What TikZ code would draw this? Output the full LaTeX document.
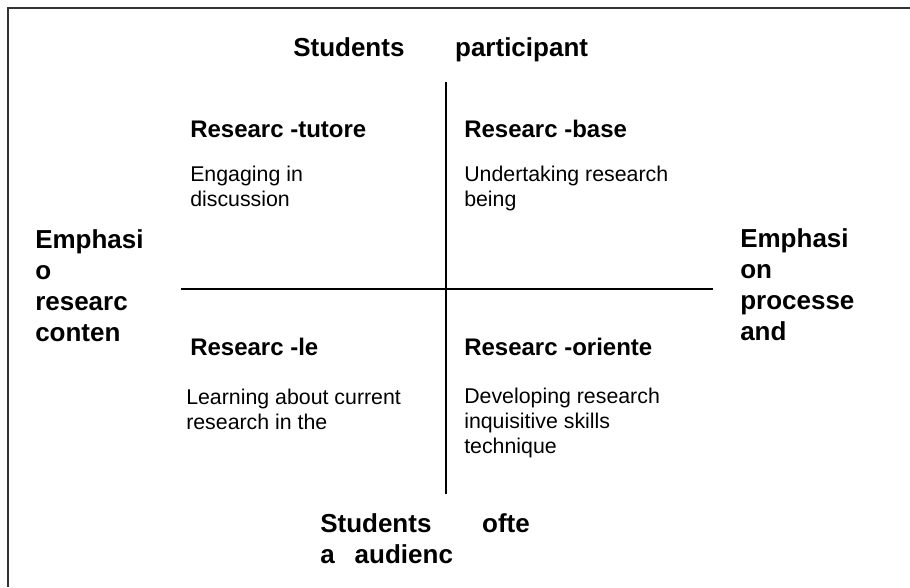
\documentclass[tikz,border=0pt]{standalone}
\usepackage{fontspec}
\setmainfont{Liberation Sans}
\begin{document}
\begin{tikzpicture}[x=0.75pt,y=-0.75pt,
  big/.style={font=\fontsize{19.5}{23.25}\selectfont\bfseries, inner sep=0pt, anchor=base west, align=left},
  head/.style={font=\fontsize{18}{21}\selectfont\bfseries, inner sep=0pt, anchor=base west},
  body/.style={font=\fontsize{16}{18.4}\selectfont, inner sep=0pt, anchor=base west, align=left},
  axisline/.style={line width=1.5pt, black},
  frame/.style={line width=1.6pt, black!80}]
\useasboundingbox (0,0) rectangle (910,587);
% partial frame
\coordinate (fbl) at (8,587);
\coordinate (ftl) at (8,8);
\coordinate (ftr) at (910,8);
\draw[frame] (fbl) -- (ftl) -- (ftr);
% axes
\coordinate (vtop) at (446,82);
\coordinate (vbot) at (446,494);
\coordinate (hleft) at (181,289);
\coordinate (hright) at (713,289);
\draw[axisline] (vtop) -- (vbot);
\draw[axisline] (hleft) -- (hright);
% axis labels (multi-line nodes: base = baseline of last line)
\node[big] (top) at (293,56) {Students\hspace*{38pt}participant};
\node[big] (bottom) at (320,563) {Students\hspace*{38pt}ofte\\a\hspace*{15pt}audienc};
\node[big] (left) at (35,341) {Emphasi\\o\\researc\\conten};
\node[big] (right) at (740,340) {Emphasi\\on\\processe\\and};
% quadrant headings
\node[head] (q1h) at (190,137) {Researc -tutore};
\node[head] (q2h) at (464,137) {Researc -base};
\node[head] (q3h) at (190,355) {Researc -le};
\node[head] (q4h) at (464,355) {Researc -oriente};
% quadrant bodies
\node[body] (q1b) at (190,206) {Engaging in\\discussion};
\node[body] (q2b) at (464,206) {Undertaking research\\being};
\node[body] (q3b) at (186,429) {Learning about current\\research in the};
\node[body] (q4b) at (464,453) {Developing research\\inquisitive skills\\technique};
\end{tikzpicture}
\end{document}
